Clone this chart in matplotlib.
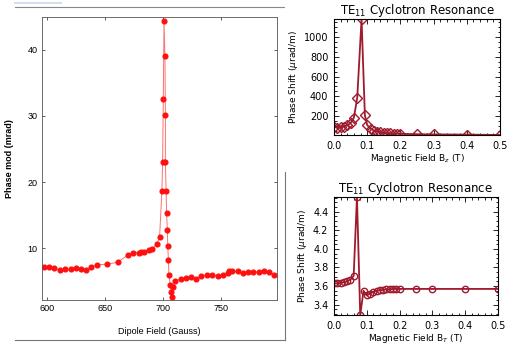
import matplotlib
matplotlib.use("Agg")
import matplotlib.pyplot as plt
import numpy as np
from matplotlib.lines import Line2D
from matplotlib.ticker import MultipleLocator

# left panel: dipole scan
dipole_field = [597.7, 602, 606.6, 611.4, 616, 620.5, 625, 629.7, 634, 638, 643,
                652, 661, 670, 674.3, 679, 681, 683.4, 688, 690.6, 694.6, 697,
                699, 699.6, 700.2, 700.8, 701.6, 702, 702, 702.6, 703, 703.7,
                704, 704.6, 705, 706.3, 707, 708, 708.9, 710.6, 715, 719.4, 724,
                728.6, 733, 737.7, 742, 746.9, 751.4, 755.7, 757, 759.4, 764.3,
                768.9, 773.4, 777.7, 782.3, 786.9, 791.4, 795.7]
phase_mod = [7.2, 7.1, 7.0, 6.7, 6.8, 6.8, 7.0, 6.8, 6.7, 7.2, 7.5,
             7.6, 7.9, 9.0, 9.35, 9.35, 9.4, 9.45, 9.75, 9.85, 10.65, 11.65,
             18.7, 23.0, 32.5, 44.3, 39.0, 30.2, 23.0, 18.7, 15.3, 12.7,
             10.4, 8.2, 5.9, 4.4, 3.45, 2.6, 4.1, 5.1, 5.35, 5.5, 5.6,
             5.3, 5.8, 5.9, 6.0, 5.8, 6.0, 6.2, 6.6, 6.5, 6.5,
             6.2, 6.4, 6.4, 6.4, 6.5, 6.4, 6.0]

# top right: Bz scan
bz = [0.0, 0.01, 0.02, 0.03, 0.04, 0.05, 0.06, 0.07, 0.083, 0.093, 0.10, 0.11,
      0.12, 0.13, 0.14, 0.15, 0.16, 0.17, 0.18, 0.19, 0.20, 0.25, 0.30, 0.40, 0.50]
shift_z = [90, 85, 88, 95, 110, 130, 185, 388, 1180, 210, 110, 75,
           55, 45, 38, 33, 30, 27, 25, 23, 22, 18, 16, 14, 10]

# bottom right: BT scan
bt = [0.0, 0.01, 0.02, 0.03, 0.04, 0.05, 0.06, 0.07, 0.08, 0.09, 0.10, 0.11,
      0.12, 0.13, 0.14, 0.15, 0.16, 0.17, 0.18, 0.19, 0.20, 0.25, 0.30, 0.40, 0.50]
shift_t = [3.63, 3.63, 3.635, 3.64, 3.65, 3.67, 3.71, 4.56, 3.29, 3.55, 3.50, 3.52,
           3.54, 3.55, 3.555, 3.56, 3.565, 3.565, 3.57, 3.57, 3.57, 3.57, 3.57, 3.57, 3.57]

narrow = ['Liberation Sans Narrow', 'Liberation Sans', 'DejaVu Sans']
dark_red = '#9e1a2c'

fig = plt.figure(figsize=(5.11, 3.5), dpi=100)

# slide decorations
fig.add_artist(Line2D([0.03, 0.555], [0.98, 0.98], color='#888888', lw=0.8))
fig.add_artist(Line2D([0.03, 0.12], [0.992, 0.992], color='#cfe0f0', lw=1.5))
fig.add_artist(Line2D([0.03, 0.558], [0.029, 0.029], color='#777777', lw=0.8))
fig.add_artist(Line2D([0.558, 0.558], [0.029, 0.51], color='#777777', lw=0.8))

# left
ax = fig.add_axes([0.0816, 0.143, 0.4605, 0.808])
ax.plot(dipole_field, phase_mod, '-', color='#ff7070', lw=0.7)
ax.plot(dipole_field, phase_mod, 'o', color='#ff1010', ms=3.4, mec='#ff1010')
ax.set_xlim(595.6, 798)
ax.set_ylim(2.2, 44.9)
ax.set_xticks([600, 650, 700, 750])
ax.set_yticks([10, 20, 30, 40])
ax.tick_params(direction='in', length=2.5, width=0.6, top=True, right=True,
               labelsize=6.5, pad=3, color='#444444')
for lab in ax.get_xticklabels() + ax.get_yticklabels():
    lab.set_family(narrow)
for s in ax.spines.values():
    s.set_linewidth(0.6)
    s.set_color('#555555')
ax.set_xlabel('Dipole Field (Gauss)', fontsize=6.5, family=narrow, labelpad=10)
ax.set_ylabel('Phase mod (mrad)', fontsize=6.5, family=narrow, labelpad=10,
              fontweight='bold')


def ircr(pos, x, y, marker, xlabel, ylim, yticks, yminor):
    a = fig.add_axes(pos)
    a.plot(x, y, '-', color=dark_red, lw=1.3, marker=marker, ms=4.6,
           mfc='none', mec=dark_red, mew=1.0)
    a.set_xlim(0, 0.5)
    a.set_ylim(*ylim)
    a.set_xticks([0.0, 0.1, 0.2, 0.3, 0.4, 0.5])
    a.set_xticklabels(['0.0', '0.1', '0.2', '0.3', '0.4', '0.5'])
    a.set_yticks(yticks)
    a.xaxis.set_minor_locator(MultipleLocator(0.02))
    a.yaxis.set_minor_locator(MultipleLocator(yminor))
    a.tick_params(which='both', direction='in', top=True, right=True, width=0.6)
    a.tick_params(which='major', length=3.5, labelsize=7, pad=4)
    a.tick_params(which='minor', length=1.8)
    for s in a.spines.values():
        s.set_linewidth(0.8)
    a.set_title(r'TE$_{11}$ Cyclotron Resonance', fontsize=8.5, pad=3)
    a.set_xlabel(xlabel, fontsize=6.5, labelpad=1)
    a.set_ylabel(r'Phase Shift ($\mu$rad/m)', fontsize=6.5, labelpad=3)
    return a


ircr([0.6536, 0.6143, 0.325, 0.331], bz, shift_z, 'D',
     r'Magnetic Field B$_z$ (T)', (min(shift_z), max(shift_z)),
     [200, 400, 600, 800, 1000], 50)
ircr([0.6536, 0.1, 0.321, 0.338], bt, shift_t, 'o',
     r'Magnetic Field B$_T$ (T)', (min(shift_t), max(shift_t)),
     [3.4, 3.6, 3.8, 4.0, 4.2, 4.4], 0.05)

fig.savefig('out.png', dpi=100)
